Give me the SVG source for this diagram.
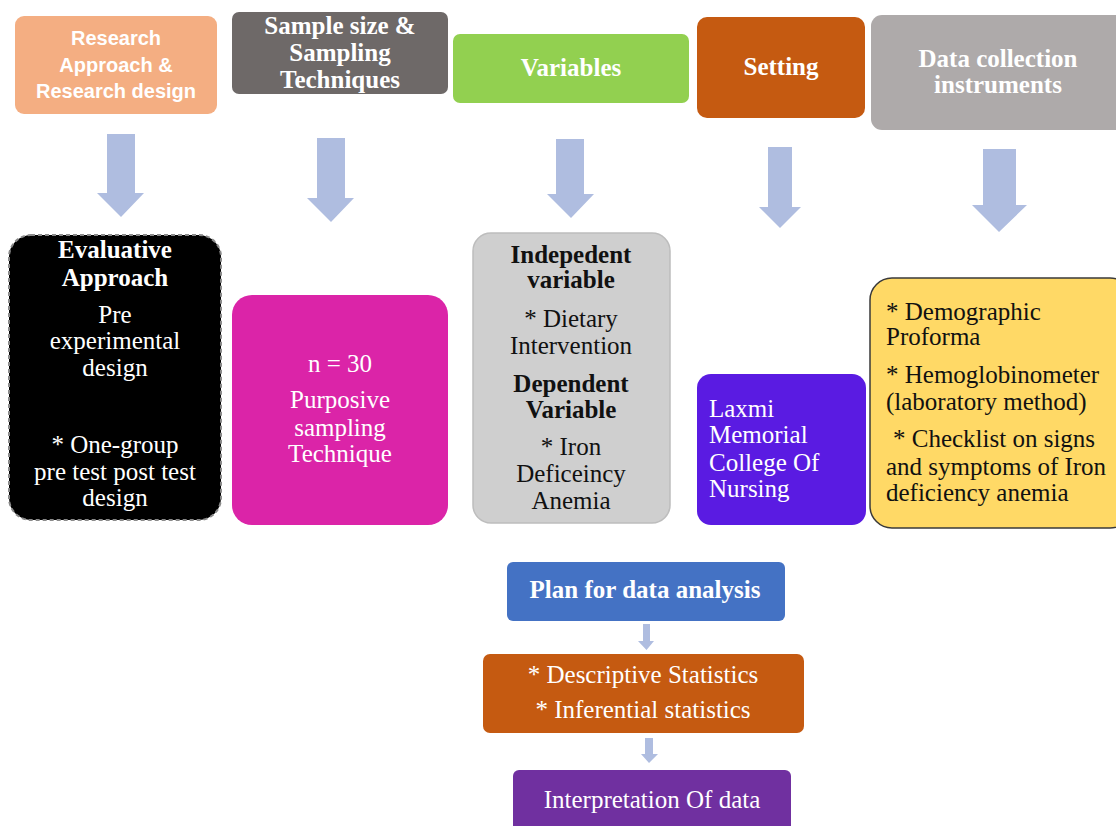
<svg xmlns="http://www.w3.org/2000/svg" width="1116" height="826" viewBox="0 0 1116 826">
<style>
.s{font-family:"Liberation Serif","Times New Roman",serif;font-size:25px}
.b{font-weight:bold}
.w{fill:#ffffff}
.k{fill:#111111}
.c{text-anchor:middle}
.sans{font-family:"Liberation Sans",Arial,sans-serif;font-size:20px;font-weight:bold}
.arr{fill:#AFBDE0}
</style>
<rect width="1116" height="826" fill="#ffffff"/>
<g id="connectors">
<polygon class="arr" points="107,134 135,134 135,193 144,193 121,217 97,193 107,193"/>
<polygon class="arr" points="317,138 345,138 345,198 354,198 331,222 307,198 317,198"/>
<polygon class="arr" points="556,139 584,139 584,194 594,194 571,218 547,194 556,194"/>
<polygon class="arr" points="768,147 792,147 792,207 801,207 780,228 759,207 768,207"/>
<polygon class="arr" points="983,149 1016,149 1016,205 1027,205 999,232 972,205 983,205"/>
<polygon class="arr" points="643,624 650,624 650,641 654,641 646.5,650 638,641 643,641"/>
<polygon class="arr" points="645,738 653,738 653,754 658,754 649,763 641,754 645,754"/>
</g>
<g id="n-research">
<rect x="15" y="16" width="202" height="98" rx="9" fill="#F4AE82"/>
<text class="sans w c" x="116" y="45">Research</text>
<text class="sans w c" x="116" y="72">Approach &amp;</text>
<text class="sans w c" x="116" y="98">Research design</text>
</g>
<g id="n-sample">
<rect x="232" y="12" width="216" height="82" rx="7" fill="#6E6968"/>
<text class="s b w c" x="340" y="34">Sample size &amp;</text>
<text class="s b w c" x="340" y="61">Sampling</text>
<text class="s b w c" x="340" y="88">Techniques</text>
</g>
<g id="n-variables">
<rect x="453" y="34" width="236" height="69" rx="7" fill="#92D050"/>
<text class="s b w c" x="571" y="76">Variables</text>
</g>
<g id="n-setting">
<rect x="697" y="17" width="168" height="101" rx="10" fill="#C55A11"/>
<text class="s b w c" x="781" y="75">Setting</text>
</g>
<g id="n-instruments">
<rect x="871" y="15" width="260" height="115" rx="11" fill="#AEAAAA"/>
<text class="s b w c" x="998" y="67">Data collection</text>
<text class="s b w c" x="998" y="93">instruments</text>
</g>
<g id="n-approach">
<rect x="9" y="235" width="212" height="285" rx="22" fill="#000000" stroke="#8a8a8a" stroke-width="2" stroke-dasharray="4 3"/>
<text class="s b w c" x="115" y="258">Evaluative</text>
<text class="s b w c" x="115" y="286">Approach</text>
<text class="s w c" x="115" y="323">Pre</text>
<text class="s w c" x="115" y="349">experimental</text>
<text class="s w c" x="115" y="376">design</text>
<text class="s w c" x="115" y="453">* One-group</text>
<text class="s w c" x="115" y="480">pre test post test</text>
<text class="s w c" x="115" y="506">design</text>
</g>
<g id="n-sampling">
<rect x="232" y="295" width="216" height="230" rx="20" fill="#DB24A8"/>
<text class="s w c" x="340" y="372">n = 30</text>
<text class="s w c" x="340" y="408">Purposive</text>
<text class="s w c" x="340" y="436">sampling</text>
<text class="s w c" x="340" y="462">Technique</text>
</g>
<g id="n-vars">
<rect x="473" y="233" width="197" height="290" rx="18" fill="#CFCFCF" stroke="#BDBDBD" stroke-width="1.5"/>
<text class="s b k c" x="571" y="263">Indepedent</text>
<text class="s b k c" x="571" y="288">variable</text>
<text class="s k c" x="571" y="327">* Dietary</text>
<text class="s k c" x="571" y="354">Intervention</text>
<text class="s b k c" x="571" y="392">Dependent</text>
<text class="s b k c" x="571" y="418">Variable</text>
<text class="s k c" x="571" y="455">* Iron</text>
<text class="s k c" x="571" y="482">Deficeincy</text>
<text class="s k c" x="571" y="509">Anemia</text>
</g>
<g id="n-place">
<rect x="697" y="374" width="169" height="151" rx="14" fill="#5A1BE2"/>
<text class="s w" x="709" y="417">Laxmi</text>
<text class="s w" x="709" y="443">Memorial</text>
<text class="s w" x="709" y="471">College Of</text>
<text class="s w" x="709" y="497">Nursing</text>
</g>
<g id="n-tools">
<rect x="870" y="278" width="262" height="250" rx="22" fill="#FFD966" stroke="#3a3a3a" stroke-width="1.5"/>
<text class="s k" x="886" y="320">* Demographic</text>
<text class="s k" x="886" y="345">Proforma</text>
<text class="s k" x="886" y="383">* Hemoglobinometer</text>
<text class="s k" x="886" y="410">(laboratory method)</text>
<text class="s k" x="893" y="447">* Checklist on signs</text>
<text class="s k" x="886" y="475">and symptoms of Iron</text>
<text class="s k" x="886" y="501">deficiency anemia</text>
</g>
<g id="n-plan">
<rect x="507" y="562" width="278" height="59" rx="6" fill="#4472C4"/>
<text class="s b w c" x="645" y="598">Plan for data analysis</text>
</g>
<g id="n-stats">
<rect x="483" y="654" width="321" height="79" rx="7" fill="#C55A11"/>
<text class="s w c" x="643" y="683">* Descriptive Statistics</text>
<text class="s w c" x="643" y="718">* Inferential statistics</text>
</g>
<g id="n-interp">
<rect x="513" y="770" width="278" height="70" rx="6" fill="#7030A0"/>
<text class="s w c" x="652" y="808">Interpretation Of data</text>
</g>
</svg>
